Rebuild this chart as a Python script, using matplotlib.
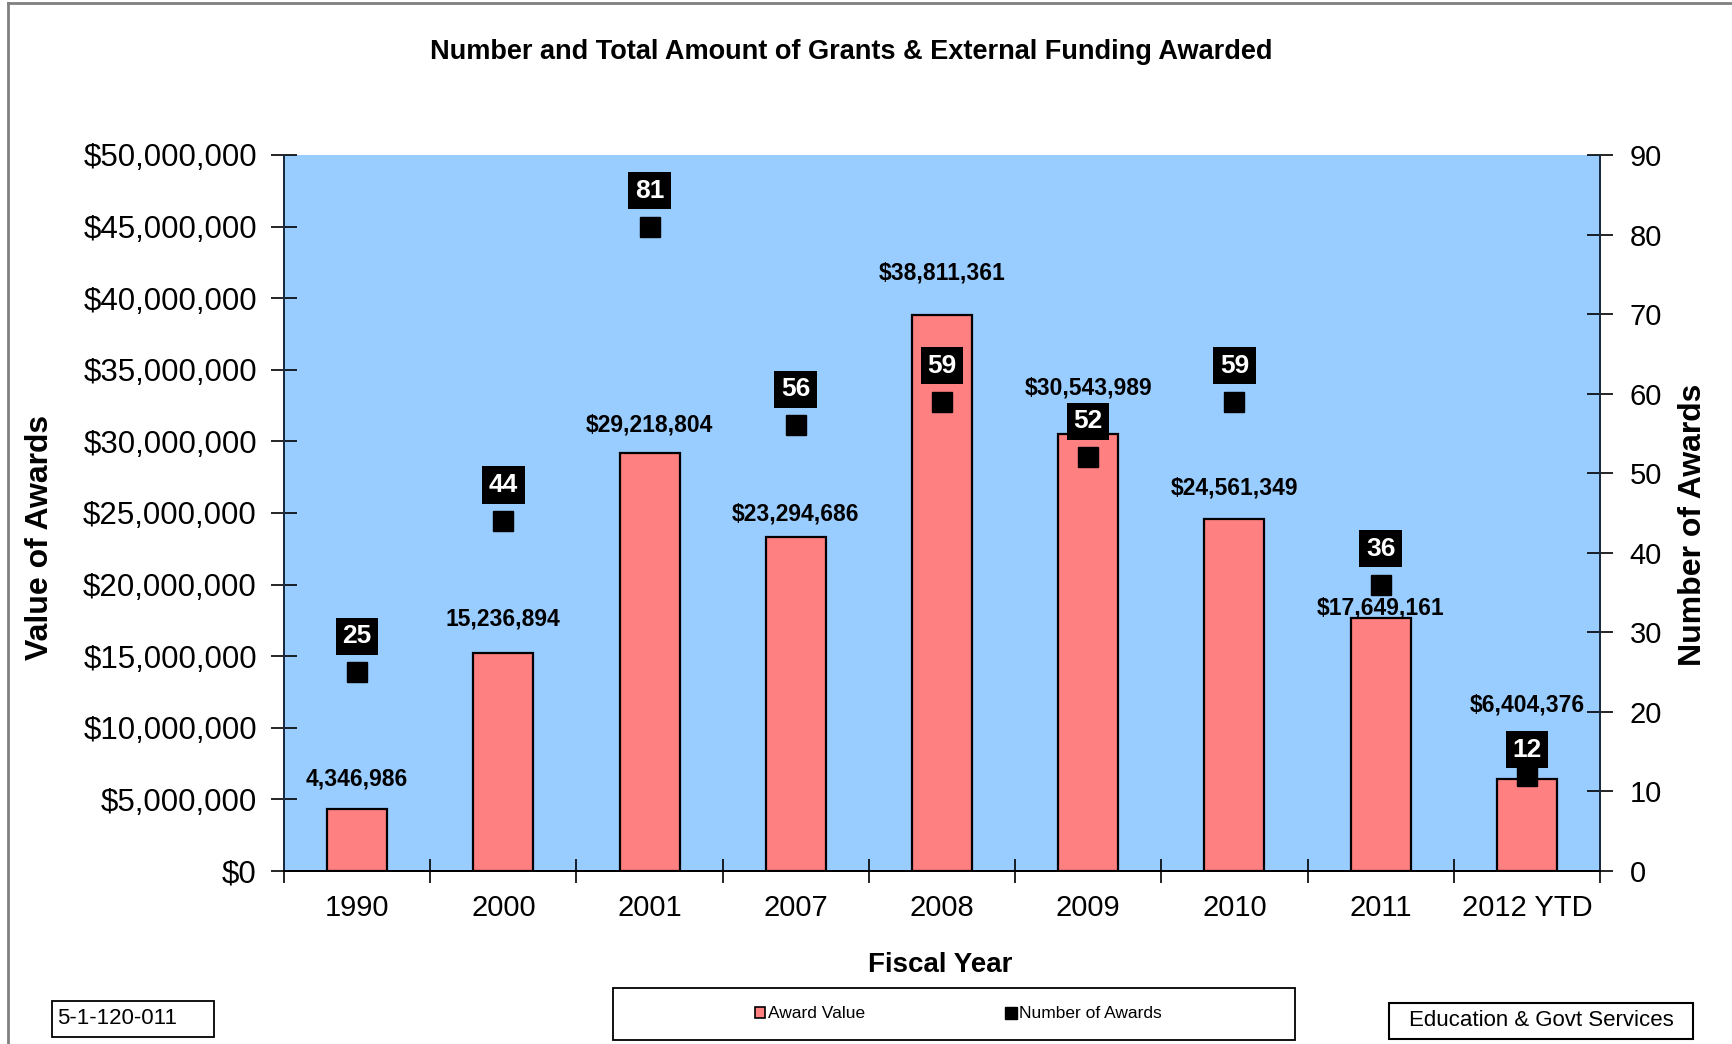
import matplotlib.pyplot as plt
from matplotlib.patches import Patch, Rectangle
from matplotlib.lines import Line2D
from matplotlib.ticker import FuncFormatter, FixedLocator

plt.rcParams['font.family'] = ['Liberation Sans', 'DejaVu Sans']

years = ["1990", "2000", "2001", "2007", "2008", "2009", "2010", "2011", "2012 YTD"]
award_value = [4346986, 15236894, 29218804, 23294686, 38811361, 30543989, 24561349, 17649161, 6404376]
award_labels = ["4,346,986", "15,236,894", "$29,218,804", "$23,294,686", "$38,811,361",
                "$30,543,989", "$24,561,349", "$17,649,161", "$6,404,376"]
award_count = [25, 44, 81, 56, 59, 52, 59, 36, 12]

# label offsets above the bar / marker, in pixels (Excel nudged some)
value_offsets = [30, 34, 28, 23, 42, 46, 31, 10, 74]
count_offsets = [36, 36, 36, 36, 36, 36, 36, 36, 26]

W, H = 1733, 1044
fig = plt.figure(figsize=(W / 100, H / 100), dpi=100)
ax1 = fig.add_axes([284 / W, 1 - 871 / H, (1600 - 284) / W, (871 - 155) / H])
ax2 = ax1.twinx()

ax1.set_facecolor("#99CCFF")
x = list(range(len(years)))

ax1.bar(x, award_value, 0.41, color="#FF8080", edgecolor="black", linewidth=1.6, zorder=2)
ax2.plot(x, award_count, "s", color="black", markersize=15, zorder=3)

for i in x:
    ax1.annotate(award_labels[i], (i, award_value[i]), xytext=(0, value_offsets[i]),
                 textcoords="offset pixels", ha="center", va="center",
                 fontsize=16.5, fontweight="bold", zorder=4)
    ax2.annotate(str(award_count[i]), (i, award_count[i]), xytext=(0, count_offsets[i]),
                 textcoords="offset pixels", ha="center", va="center",
                 fontsize=19, fontweight="bold", color="white", zorder=5,
                 bbox=dict(boxstyle="square,pad=0.25", fc="black", ec="none"))

ax1.set_xlim(-0.5, len(years) - 0.5)
ax1.set_ylim(0, 50000000)
ax2.set_ylim(0, 90)
ax1.set_yticks(range(0, 50000001, 5000000))
ax2.set_yticks(range(0, 91, 10))
ax1.yaxis.set_major_formatter(FuncFormatter(lambda v, p: "${:,.0f}".format(v)))

ax1.set_xticks(x)
ax1.set_xticklabels(years)
ax1.xaxis.set_minor_locator(FixedLocator([i - 0.5 for i in range(len(years) + 1)]))
ax1.tick_params(axis="x", which="major", length=0, pad=16.5, labelsize=21)
ax1.tick_params(axis="x", which="minor", direction="inout", length=17, width=1.2)
ax1.tick_params(axis="y", direction="inout", length=19, width=1.2, pad=10, labelsize=22.5)
ax2.tick_params(axis="y", direction="inout", length=19, width=1.2, pad=12, labelsize=21)

for a in (ax1, ax2):
    a.spines["top"].set_visible(False)
    a.spines["left"].set_color("#1a2a40")
    a.spines["right"].set_color("#1a2a40")
    a.spines["bottom"].set_color("black")
    for s in a.spines.values():
        s.set_linewidth(1.4)

fig.text(0.5 * (430 + 1272) / W, 1 - 52 / H,
         "Number and Total Amount of Grants & External Funding Awarded",
         ha="center", va="center", fontsize=19.5, fontweight="bold")
fig.text(40 / W, 1 - 537 / H, "Value of Awards", rotation=90, ha="center", va="center",
         fontsize=23, fontweight="bold")
fig.text(1693 / W, 1 - 525 / H, "Number of Awards", rotation=90, ha="center", va="center",
         fontsize=23, fontweight="bold")
fig.text(940 / W, 1 - 965 / H, "Fiscal Year", ha="center", va="center",
         fontsize=20, fontweight="bold")

# legend box
fig.patches.append(Rectangle((613 / W, 1 - 1040 / H), 682 / W, 52 / H, transform=fig.transFigure,
                             fill=False, edgecolor="black", linewidth=1.3))
handles = [Patch(facecolor="#FF8080", edgecolor="black", linewidth=1.2),
           Line2D([], [], marker="s", color="black", linestyle="none", markersize=8)]
fig.legend(handles, ["Award Value", "Number of Awards"], loc="center",
           bbox_to_anchor=(958 / W, 1 - 1014 / H), ncol=2, frameon=False,
           fontsize=12.5, handlelength=0.6, handleheight=0.6, handletextpad=0.15,
           columnspacing=8.1)

# footer boxes
fig.text(57 / W, 1 - 1019 / H, "5-1-120-011", ha="left", va="center", fontsize=16)
fig.patches.append(Rectangle((52 / W, 1 - 1037 / H), 162 / W, 36 / H, transform=fig.transFigure,
                             fill=False, edgecolor="black", linewidth=1.3))
fig.text(1541 / W, 1 - 1021 / H, "Education & Govt Services", ha="center", va="center", fontsize=16)
fig.patches.append(Rectangle((1389 / W, 1 - 1039 / H), 304 / W, 36 / H, transform=fig.transFigure,
                             fill=False, edgecolor="black", linewidth=1.5))

# outer chart border (top and left visible)
fig.add_artist(Line2D([8 / W, 1], [1 - 3 / H, 1 - 3 / H], transform=fig.transFigure,
                      color="#808080", linewidth=2))
fig.add_artist(Line2D([8 / W, 8 / W], [0, 1 - 3 / H], transform=fig.transFigure,
                      color="#808080", linewidth=2))

fig.savefig("out.png", dpi=100)
